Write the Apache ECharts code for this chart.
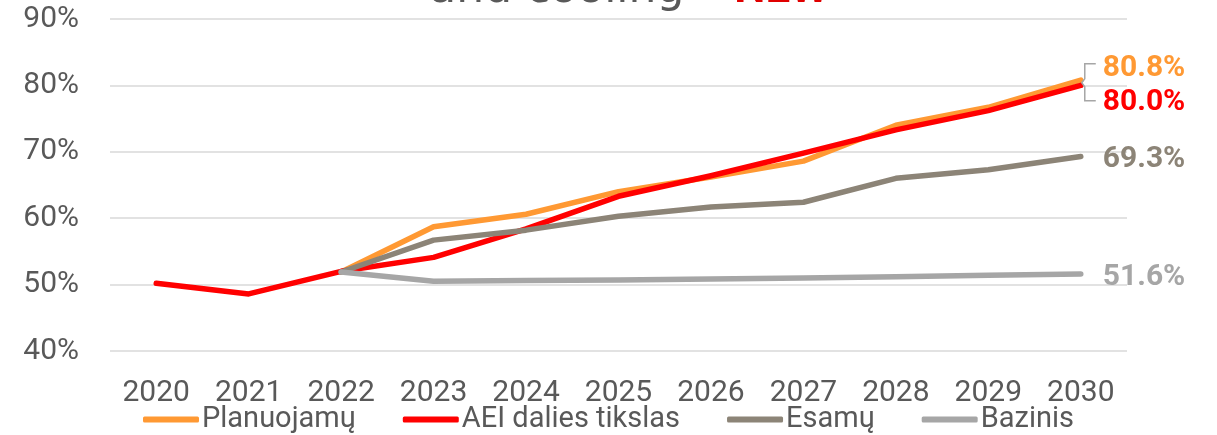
<!DOCTYPE html>
<html>
<head>
<meta charset="utf-8">
<script src="https://cdn.jsdelivr.net/npm/echarts@6/dist/echarts.min.js"></script>
<style>
  html, body { margin: 0; padding: 0; background: #ffffff; }
  #chart { width: 1217px; height: 435px; }
</style>
</head>
<body>
<div id="chart"></div>
<script>
// Years on the category axis
const years = ['2020', '2021', '2022', '2023', '2024', '2025', '2026', '2027', '2028', '2029', '2030'];

// Share of renewables in heating and cooling, %
const planuojamu = [null, null, 51.9, 58.7, 60.6, 64.0, 66.2, 68.6, 74.0, 76.7, 80.8];
const aeiTikslas = [50.2, 48.6, 52.0, 54.1, 58.4, 63.3, 66.4, 69.8, 73.3, 76.2, 80.0];
const esamu      = [null, null, 51.9, 56.7, 58.2, 60.3, 61.7, 62.4, 66.0, 67.3, 69.3];
const bazinis    = [null, null, 51.9, 50.5, 50.6, 50.7, 50.85, 51.0, 51.2, 51.4, 51.6];

const seriesNames = ['Planuojamų', 'AEI dalies tikslas', 'Esamų', 'Bazinis'];
const yTicks = { min: 40, max: 90, interval: 10 };

const COLORS = ['#FF9933', '#FF0000', '#8C8477', '#A6A6A6'];
const TEXT = '#595959';
const FONT = 'Roboto';

const chart = echarts.init(document.getElementById('chart'), null, { renderer: 'canvas' });

function lineSeries(name, data, color, labelDy) {
  return {
    name: name,
    type: 'line',
    data: data,
    showSymbol: false,
    symbol: 'none',
    connectNulls: false,
    lineStyle: { color: color, width: 5.5, cap: 'round', join: 'round' },
    itemStyle: { color: color },
    emphasis: { disabled: true },
    endLabel: {
      show: true,
      formatter: p => Number(p.value).toFixed(1) + '%',
      color: color,
      fontFamily: FONT,
      fontWeight: 'bold',
      fontSize: 30,
      distance: 22,
      offset: [0, labelDy]
    }
  };
}

chart.setOption({
  animation: false,
  backgroundColor: '#ffffff',
  grid: { left: 110, right: 90, top: 19, bottom: 84, containLabel: false },
  legend: {
    data: seriesNames,
    top: 400,
    left: 'center',
    icon: 'roundRect',
    itemWidth: 56,
    itemHeight: 6,
    itemGap: 47,
    textStyle: { color: TEXT, fontFamily: FONT, fontSize: 29, lineHeight: 29, padding: [0, 0, 0, -2] }
  },
  xAxis: {
    type: 'category',
    data: years,
    boundaryGap: true,
    axisLine: { show: false },
    axisTick: { show: false },
    axisLabel: { color: TEXT, fontFamily: FONT, fontSize: 30, margin: 27 },
    splitLine: { show: false }
  },
  yAxis: {
    type: 'value',
    min: yTicks.min,
    max: yTicks.max,
    interval: yTicks.interval,
    axisLine: { show: false },
    axisTick: { show: false },
    axisLabel: { color: TEXT, fontFamily: FONT, fontSize: 30, margin: 31, formatter: '{value}%' },
    splitLine: { show: true, lineStyle: { color: '#D9D9D9', width: 1.5 } }
  },
  series: [
    lineSeries(seriesNames[0], planuojamu, COLORS[0], -12),
    lineSeries(seriesNames[1], aeiTikslas, COLORS[1], 17),
    lineSeries(seriesNames[2], esamu, COLORS[2], 3),
    lineSeries(seriesNames[3], bazinis, COLORS[3], 4)
  ]
});

// Bracket joining the two labels of the closely spaced end points,
// plus the heading text that runs off the top edge.
const last = years.length - 1;
const pTop = chart.convertToPixel({ gridIndex: 0 }, [last, planuojamu[last]]);
const pBot = chart.convertToPixel({ gridIndex: 0 }, [last, aeiTikslas[last]]);
const midY = (pTop[1] + pBot[1]) / 2;
const bx = pTop[0];
const bTop = midY - 19, bBot = midY + 18;

chart.setOption({
  graphic: [
    {
      type: 'polyline',
      silent: true,
      z: 10,
      shape: {
        points: [
          [bx + 15, bTop], [bx + 4, bTop], [bx + 4, midY - 4],
          [bx + 1, midY], [bx + 4, midY + 4], [bx + 4, bBot], [bx + 15, bBot]
        ]
      },
      style: { stroke: '#A6A6A6', lineWidth: 1.5, fill: null }
    },
    {
      type: 'text',
      silent: true,
      x: 629,
      y: -9,
      style: {
        text: '{a|and cooling – }{b|NEW}',
        align: 'center',
        verticalAlign: 'middle',
        rich: {
          a: { fontFamily: 'DejaVu Sans', fontSize: 44, lineHeight: 44, fill: TEXT },
          b: { fontFamily: FONT, fontWeight: 'bold', fontSize: 44, lineHeight: 44, fill: '#E00000' }
        }
      }
    }
  ]
});
</script>
</body>
</html>
